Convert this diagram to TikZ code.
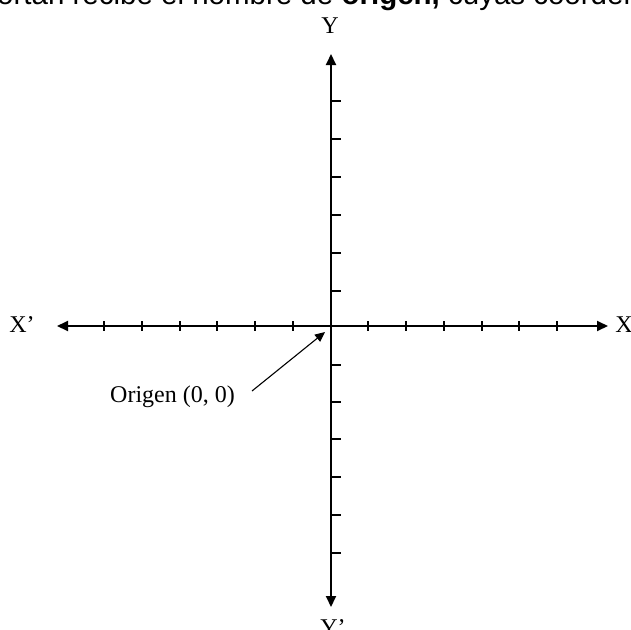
\documentclass[tikz,border=0pt]{standalone}
\usepackage{fontspec}
\setmainfont{Liberation Serif}
\newfontfamily\headfont{Liberation Sans}
\usepackage{tikz}
\usetikzlibrary{arrows.meta, positioning, calc}

\begin{document}
\begin{tikzpicture}[
  x=1pt, y=-1pt,
  axis/.style={line width=1.9pt, -{Triangle[length=11pt, width=10pt]}},
  tick/.style={line width=1.4pt},
  ptr/.style={line width=1.1pt, -{Triangle[length=10pt, width=9pt]}},
  lbl/.style={font=\fontsize{24}{26}\selectfont, inner sep=0pt}
]
  \path[use as bounding box, clip] (0,0) rectangle (631,629);

  % cut text line above the figure
  \node[anchor=base west, inner sep=0pt, font=\headfont\fontsize{29.5}{31}\selectfont] (caption) at (-3,5)
    {ortan recibe el nombre de \textbf{origen,} cuyas coorden};

  \coordinate (O) at (331,326);
  \coordinate (xl) at (57,326);
  \coordinate (xr) at (608,326);
  \coordinate (yt) at (331,54);
  \coordinate (yb) at (331,607);

  \node[lbl] (Xneg) at (22,325) {X'};
  \node[lbl] (Xpos) at (624,325) {X};
  \node[lbl] (Ypos) at (330,26) {Y};
  \node[lbl, anchor=north] (Yneg) at (333,619) {Y'};

  \draw[axis] (O) -- (xl);
  \draw[axis] (O) -- (xr);
  \draw[axis] (O) -- (yt);
  \draw[axis] (O) -- (yb);

  \foreach \t in {104,142,180,217,255,293,368,406,444,482,519,557}
    \draw[tick] (\t,321) -- (\t,331);
  \foreach \t in {101,139,177,215,253,291,365,402,439,477,515,553}
    \draw[tick] (331,\t) -- (341,\t);

  % pointer to the origin
  \node[lbl, anchor=base west] (orig) at (110,402) {Origen (0, 0)};
  \coordinate (tail) at (252,391);
  \coordinate (tip) at (325,332);
  \draw[ptr] (tail) -- (tip);
\end{tikzpicture}
\end{document}
